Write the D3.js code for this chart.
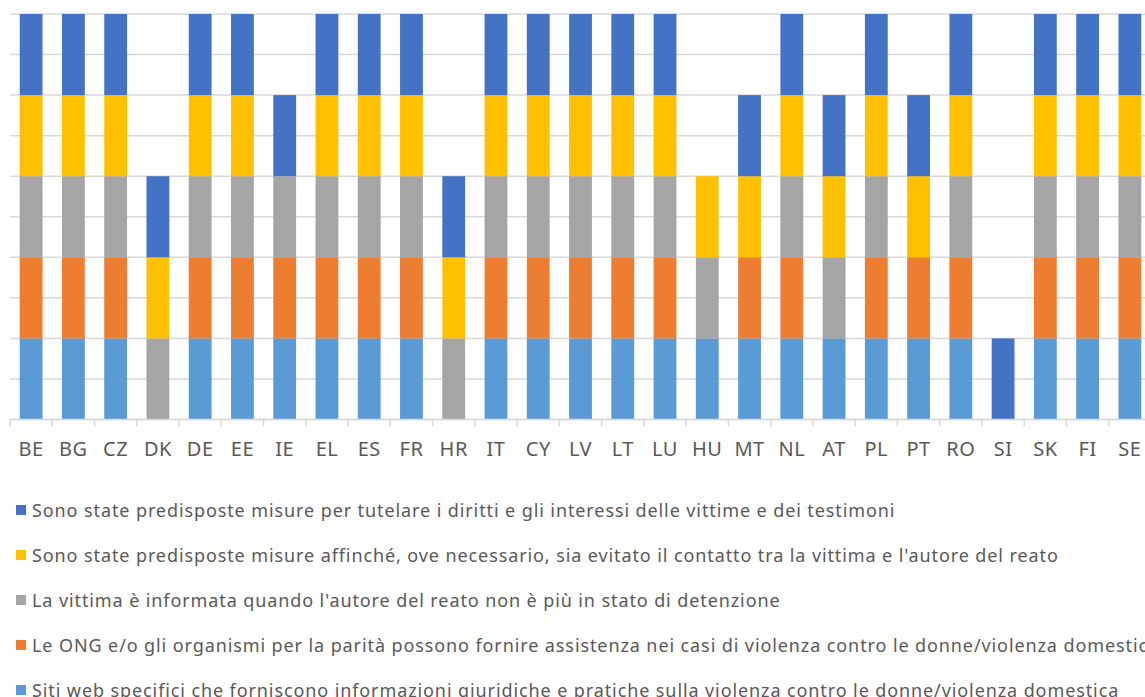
<!DOCTYPE html>
<html>
<head>
<meta charset="utf-8">
<script src="https://cdn.jsdelivr.net/npm/d3@7"></script>
<style>
  body { margin: 0; background: #fff; overflow: hidden; }
  text { font-family: "Noto Sans", sans-serif; fill: #595959; }
</style>
</head>
<body>
<div id="chart"></div>
<script>
// set the dimensions of the graph
const width = 1145,
    height = 697;

// country codes along the x axis
const countries = ["BE","BG","CZ","DK","DE","EE","IE","EL","ES","FR","HR","IT","CY","LV","LT","LU","HU","MT","NL","AT","PL","PT","RO","SI","SK","FI","SE"];

// one value per country for every measure (1 = yes, 0 = no), bottom of the stack first
const web       = [1,1,1,0,1,1,1,1,1,1,0,1,1,1,1,1,1,1,1,1,1,1,1,0,1,1,1];
const ong       = [1,1,1,0,1,1,1,1,1,1,0,1,1,1,1,1,0,1,1,0,1,1,1,0,1,1,1];
const informata = [1,1,1,1,1,1,1,1,1,1,1,1,1,1,1,1,1,0,1,1,1,0,1,0,1,1,1];
const contatto  = [1,1,1,1,1,1,0,1,1,1,1,1,1,1,1,1,1,1,1,1,1,1,1,0,1,1,1];
const diritti   = [1,1,1,1,1,1,1,1,1,1,1,1,1,1,1,1,0,1,1,1,1,1,1,1,1,1,1];

// y axis gridline values
const yTicks = [0,0.5,1,1.5,2,2.5,3,3.5,4,4.5,5];

const series = [
  {key: "web", values: web, color: "#5B9BD5",
   label: "Siti web specifici che forniscono informazioni giuridiche e pratiche sulla violenza contro le donne/violenza domestica"},
  {key: "ong", values: ong, color: "#ED7D31",
   label: "Le ONG e/o gli organismi per la parità possono fornire assistenza nei casi di violenza contro le donne/violenza domestica"},
  {key: "informata", values: informata, color: "#A5A5A5",
   label: "La vittima è informata quando l'autore del reato non è più in stato di detenzione"},
  {key: "contatto", values: contatto, color: "#FFC000",
   label: "Sono state predisposte misure affinché, ove necessario, sia evitato il contatto tra la vittima e l'autore del reato"},
  {key: "diritti", values: diritti, color: "#4472C4",
   label: "Sono state predisposte misure per tutelare i diritti e gli interessi delle vittime e dei testimoni"}
];

// build a table the stack layout can use
const table = countries.map((c, i) => {
  const row = {country: c};
  series.forEach(s => row[s.key] = s.values[i]);
  return row;
});

const stacked = d3.stack().keys(series.map(s => s.key))(table);

const svg = d3.select("#chart")
  .append("svg")
    .attr("width", width)
    .attr("height", height);

const x = d3.scaleBand()
  .domain(countries)
  .range([10, 1151])
  .paddingInner(0.46)
  .paddingOuter(0.23);

const y = d3.scaleLinear()
  .domain([0, 5])
  .range([419.5, 14]);

// gridlines
svg.append("g")
  .selectAll("line")
  .data(yTicks)
  .join("line")
    .attr("x1", 10)
    .attr("x2", width)
    .attr("y1", d => y(d))
    .attr("y2", d => y(d))
    .attr("stroke", "#d9d9d9")
    .attr("stroke-width", 1.5);

// the bars, one group per series
svg.append("g")
  .selectAll("g")
  .data(stacked)
  .join("g")
    .attr("fill", (d, i) => series[i].color)
  .selectAll("rect")
  .data(d => d)
  .join("rect")
    .attr("x", d => x(d.data.country))
    .attr("y", d => y(d[1]))
    .attr("height", d => y(d[0]) - y(d[1]))
    .attr("width", x.bandwidth());

// x axis: line, ticks between categories, labels
const step = x.step();
const xAxis = svg.append("g");
xAxis.append("line")
  .attr("x1", 10).attr("x2", width)
  .attr("y1", y(0)).attr("y2", y(0))
  .attr("stroke", "#d9d9d9").attr("stroke-width", 1.5);
xAxis.selectAll("line.tick")
  .data(d3.range(countries.length + 1))
  .join("line")
    .attr("class", "tick")
    .attr("x1", i => 10 + i * step)
    .attr("x2", i => 10 + i * step)
    .attr("y1", y(0))
    .attr("y2", y(0) + 7)
    .attr("stroke", "#d9d9d9").attr("stroke-width", 1.5);
xAxis.selectAll("text")
  .data(countries)
  .join("text")
    .attr("x", d => x(d) + x.bandwidth() / 2)
    .attr("y", 456)
    .attr("text-anchor", "middle")
    .style("font-size", "20px")
    .style("letter-spacing", "0.5px")
    .text(d => d);

// legend, top entry is the top of the stack
const legend = svg.append("g")
  .selectAll("g")
  .data(series.slice().reverse())
  .join("g")
    .attr("transform", (d, i) => `translate(16, ${510 + i * 45})`);
legend.append("rect")
  .attr("y", -5)
  .attr("width", 10)
  .attr("height", 10)
  .attr("fill", d => d.color);
legend.append("text")
  .attr("x", 16)
  .attr("y", 0)
  .attr("dominant-baseline", "central")
  .style("font-size", "18px")
  .style("letter-spacing", "0.9px")
  .text(d => d.label);
</script>
</body>
</html>
